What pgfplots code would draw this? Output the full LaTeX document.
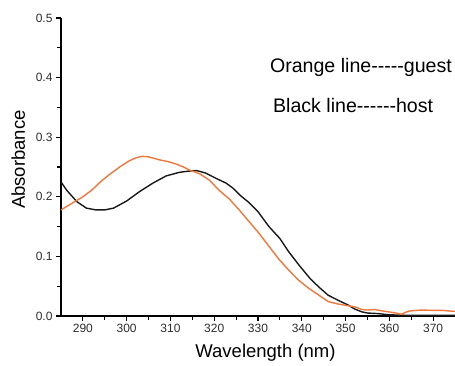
\documentclass[border=0pt]{standalone}
\usepackage{fontspec}
\setmainfont{Liberation Sans}[Ligatures=NoCommon]
\usepackage{pgfplots}
\pgfplotsset{compat=1.18}
\definecolor{myorange}{RGB}{240,120,60}
\definecolor{ticklab}{RGB}{45,45,45}
\begin{document}
\begin{tikzpicture}
\begin{axis}[
  scale only axis,
  width=394pt, height=298pt,
  xmin=285, xmax=375, ymin=0, ymax=0.5,
  axis x line=bottom, axis y line=left,
  axis line style={-, line width=1.2pt},
  xtick={290,300,...,370},
  ytick={0,0.1,...,0.5},
  minor x tick num=1, minor y tick num=1,
  tick align=outside,
  major tick length=5pt, minor tick length=3.5pt,
  every tick/.style={black, line width=1.1pt},
  /pgf/number format/assume math mode=true,
  yticklabel style={/pgf/number format/fixed, /pgf/number format/fixed zerofill, /pgf/number format/precision=1, font=\fontsize{12}{14}\selectfont, text=ticklab},
  xticklabel style={font=\fontsize{12}{14}\selectfont, text=ticklab},
  xlabel={Wavelength (nm)},
  ylabel={Absorbance},
  xlabel style={font=\fontsize{18.5}{22}\selectfont, at={(axis description cs:0.519,-0.1376)}, anchor=base},
  ylabel style={font=\fontsize{18.5}{22}\selectfont, at={(axis description cs:-0.0914,0.525)}, anchor=base, rotate=0},
  clip=true,
]
\addplot[black!90, line width=1.4pt] coordinates {
(285,0.225) (286.3,0.211) (288.6,0.192) (290.8,0.181) (293,0.178) (295,0.178)
(297,0.181) (300,0.193) (303,0.209) (306,0.223) (309,0.235) (312,0.241)
(314,0.243) (316,0.244) (318,0.240) (320.4,0.231) (322.7,0.223) (324.2,0.215)
(326,0.202) (328,0.190) (330,0.175) (332.5,0.150) (335,0.130) (337,0.108)
(339.3,0.086) (342,0.062) (344,0.048) (346,0.035) (348.4,0.026) (350.7,0.018)
(352,0.012) (353.7,0.007) (355,0.005) (357.5,0.004) (360,0.002) (365,0.001)
(370,0.001) (375,0.001)
};
\addplot[myorange, line width=1.4pt] coordinates {
(285,0.178) (287.5,0.189) (290,0.200) (292,0.211) (294,0.225) (296,0.237)
(298.4,0.250) (300.5,0.260) (302,0.265) (303.5,0.268) (305,0.267) (307.5,0.262)
(309.5,0.259) (311.3,0.255) (313,0.250) (314.3,0.245) (316.6,0.239) (318.9,0.228)
(321.1,0.211) (323.5,0.196) (325.7,0.178) (327.2,0.165) (330.2,0.139) (332.5,0.117)
(334.8,0.095) (337,0.077) (339.3,0.060) (341.5,0.047) (343.9,0.035) (346.1,0.024)
(348.4,0.020) (350.7,0.017) (352.3,0.015) (353.7,0.011) (355,0.010) (356.7,0.011)
(358,0.009) (359.8,0.007) (361.5,0.005) (362.8,0.003) (364.3,0.008) (365.5,0.009)
(367.3,0.010) (370,0.0095) (372,0.0095) (374.5,0.008) (375,0.008)
};
\node[anchor=base west, font=\fontsize{19.6}{22}\selectfont, inner sep=0pt] at (axis cs:332.7,0.409) {Orange line-{}-{}-{}-{}-guest};
\node[anchor=base west, font=\fontsize{19.6}{22}\selectfont, inner sep=0pt] at (axis cs:333.4,0.342) {Black line-{}-{}-{}-{}-{}-host};
\end{axis}
\pgfresetboundingbox
\path[use as bounding box] (-61pt,-49pt) rectangle (394pt,316pt);
\end{tikzpicture}
\end{document}
